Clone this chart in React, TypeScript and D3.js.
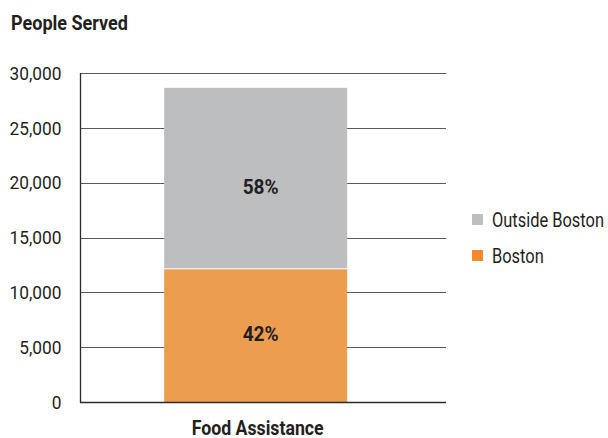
import { useEffect, useRef } from "react";
import * as d3 from "d3";

// data
const categories = ["Food Assistance"];
const seriesNames = ["Boston", "Outside Boston"];
const bostonValues = [12100];
const outsideValues = [16550];
const yTicks = [0, 5000, 10000, 15000, 20000, 25000, 30000];

const W = 608;
const H = 438;
const FONT = "Roboto, 'Liberation Sans', sans-serif";
const TEXT_FILL = "#231f20";
const BAR_COLORS = { Boston: "#ed9d50", "Outside Boston": "#bdbec0" };
const LEGEND_COLORS = { Boston: "#ee8a2b", "Outside Boston": "#bdbec0" };

/** The reference uses a condensed gothic; squeeze a group of texts so that its
 *  reference element reaches the target width, keeping one ratio for the group. */
function squeeze(sel: d3.Selection<any, any, any, any>, refWidth: number, target: number) {
  const k = target / refWidth;
  sel.each(function (this: SVGTextElement) {
    const w = this.getComputedTextLength();
    d3.select(this).attr("textLength", w * k).attr("lengthAdjust", "spacingAndGlyphs");
  });
}

function widest(sel: d3.Selection<any, any, any, any>) {
  let m = 0;
  sel.each(function (this: SVGTextElement) {
    m = Math.max(m, this.getComputedTextLength());
  });
  return m;
}

export default function App() {
  const ref = useRef<SVGSVGElement | null>(null);

  useEffect(() => {
    const el = ref.current;
    if (!el) return;
    const svg = d3.select(el);
    svg.selectAll("*").remove();

    const plot = { left: 80, right: 446, top: 73, bottom: 402 };

    const y = d3.scaleLinear().domain([0, 30000]).range([plot.bottom, plot.top]);
    const x = d3
      .scaleBand<string>()
      .domain(categories)
      .range([plot.left, plot.right])
      .paddingInner(0)
      .paddingOuter(0.5)
      .align(0.46);

    // title
    const title = svg
      .append("text")
      .attr("x", 11)
      .attr("y", 30)
      .attr("font-family", FONT)
      .attr("font-size", 20.5)
      .attr("font-weight", 700)
      .attr("fill", TEXT_FILL)
      .text("People Served");
    squeeze(title, widest(title), 117);

    // gridlines
    svg
      .append("g")
      .selectAll("line")
      .data(yTicks.filter((d) => d > 0))
      .join("line")
      .attr("x1", plot.left)
      .attr("x2", plot.right)
      .attr("y1", (d) => Math.round(y(d)) + 0.5)
      .attr("y2", (d) => Math.round(y(d)) + 0.5)
      .attr("stroke", "#5a5a5a")
      .attr("stroke-width", 1.2);

    // tick labels
    const ticks = svg
      .append("g")
      .selectAll("text")
      .data(yTicks)
      .join("text")
      .attr("x", 61.5)
      .attr("y", (d) => y(d) + 6.8)
      .attr("text-anchor", "end")
      .attr("font-family", FONT)
      .attr("font-size", 19)
      .attr("fill", TEXT_FILL)
      .text((d) => d3.format(",")(d));
    squeeze(ticks, widest(ticks), 52);

    // stacked bars
    const rows = categories.map((c, i) => ({
      category: c,
      Boston: bostonValues[i],
      "Outside Boston": outsideValues[i],
    }));
    const stack = d3.stack<any>().keys(seriesNames)(rows);

    const labelGroup = svg.append("g");
    stack.forEach((layer) => {
      const key = layer.key as keyof typeof BAR_COLORS;
      svg
        .insert("g", () => labelGroup.node())
        .selectAll("rect")
        .data(layer)
        .join("rect")
        .attr("x", (d) => x(d.data.category) as number)
        .attr("width", x.bandwidth())
        .attr("y", (d) => y(d[1]))
        .attr("height", (d) => y(d[0]) - y(d[1]) - (d[0] > 0 ? 1 : 0))
        .attr("fill", BAR_COLORS[key]);

      labelGroup
        .append("g")
        .selectAll("text")
        .data(layer)
        .join("text")
        .attr("x", (d) => (x(d.data.category) as number) + x.bandwidth() / 2 + 5)
        .attr("y", (d) => (y(d[0]) + y(d[1])) / 2 + (d[0] > 0 ? 15 : 5.5))
        .attr("text-anchor", "middle")
        .attr("font-family", FONT)
        .attr("font-size", 20)
        .attr("font-weight", 700)
        .attr("fill", TEXT_FILL)
        .text((d, i) => {
          const total = bostonValues[i] + outsideValues[i];
          return `${Math.round(((d[1] - d[0]) / total) * 100)}%`;
        });
    });
    const pct = labelGroup.selectAll<SVGTextElement, any>("text");
    squeeze(pct, widest(pct), 36);

    // axis lines
    svg
      .append("line")
      .attr("x1", plot.left + 0.5)
      .attr("x2", plot.left + 0.5)
      .attr("y1", plot.top)
      .attr("y2", plot.bottom + 1)
      .attr("stroke", "#2b2b2b")
      .attr("stroke-width", 1.3);
    svg
      .append("line")
      .attr("x1", plot.left)
      .attr("x2", plot.right)
      .attr("y1", plot.bottom + 0.5)
      .attr("y2", plot.bottom + 0.5)
      .attr("stroke", "#2b2b2b")
      .attr("stroke-width", 1.3);

    // category label
    const cat = svg
      .append("g")
      .selectAll("text")
      .data(categories)
      .join("text")
      .attr("x", (d) => (x(d) as number) + x.bandwidth() / 2 + 2)
      .attr("y", 435)
      .attr("text-anchor", "middle")
      .attr("font-family", FONT)
      .attr("font-size", 21)
      .attr("font-weight", 700)
      .attr("fill", TEXT_FILL)
      .text((d) => d);
    squeeze(cat, widest(cat), 132);

    // legend (outside first)
    const legendItems = [...seriesNames].reverse();
    const lg = svg
      .append("g")
      .selectAll("g")
      .data(legendItems)
      .join("g")
      .attr("transform", (_, i) => `translate(472,${214 + i * 36})`);
    lg.append("rect")
      .attr("width", 11)
      .attr("height", 11)
      .attr("fill", (d) => LEGEND_COLORS[d as keyof typeof LEGEND_COLORS]);
    const lgText = lg
      .append("text")
      .attr("x", 20)
      .attr("y", 13.3)
      .attr("font-family", FONT)
      .attr("font-size", 20)
      .attr("fill", TEXT_FILL)
      .text((d) => d);
    squeeze(lgText, widest(lgText), 112);
  }, []);

  return (
    <svg
      ref={ref}
      width={W}
      height={H}
      style={{ position: "absolute", left: 0, top: 0, background: "#fff" }}
    />
  );
}
